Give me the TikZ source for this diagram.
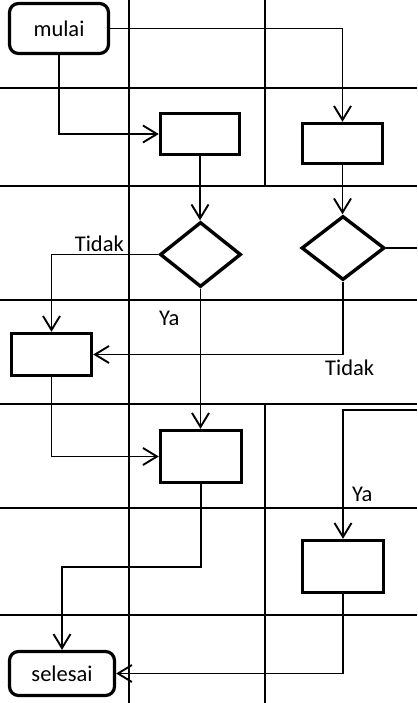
\documentclass[tikz,border=0pt]{standalone}
\usepackage{fontspec}
\setmainfont{Carlito}
\usetikzlibrary{arrows.meta,shapes.geometric}
\begin{document}
\begin{tikzpicture}[x=1pt,y=-1pt,
  gridline/.style={line width=2.2pt},
  conn/.style={line width=1.8pt,-{Straight Barb[length=14pt,width=17pt,line width=1.9pt]}},
  plainconn/.style={line width=1.8pt},
  procbox/.style={draw,line width=3.4pt,inner sep=0pt},
  term/.style={draw,line width=3.2pt,rounded corners=9pt,inner sep=0pt,font=\fontsize{22.5}{26}\selectfont},
  decision/.style={draw,diamond,line width=3.4pt,inner sep=0pt},
  lbl/.style={inner sep=0pt,font=\fontsize{22.5}{26}\selectfont}
]
\useasboundingbox (0,0) rectangle (417,703);
% swimlane grid
\foreach \yy in {88,186,300,404,508,615} \draw[gridline] (0,\yy) -- (417,\yy);
\draw[gridline] (129,0) -- (129,703);
\draw[gridline] (265,0) -- (265,186);
\draw[gridline] (265,404) -- (265,703);
% nodes
\node[term,minimum width=99pt,minimum height=50pt] (mulai) at (59,28.5) {mulai};
\node[procbox,minimum width=79pt,minimum height=41pt] (box1) at (200,134) {};
\node[procbox,minimum width=80pt,minimum height=40pt] (box2) at (342.5,143.5) {};
\node[decision,minimum width=81pt,minimum height=65pt] (d1) at (200.5,254.5) {};
\node[decision,minimum width=83pt,minimum height=64pt] (d2) at (343,248) {};
\node[procbox,minimum width=80pt,minimum height=42pt] (box3) at (51.5,354.5) {};
\node[procbox,minimum width=81pt,minimum height=52pt] (box4) at (201,456.5) {};
\node[procbox,minimum width=81pt,minimum height=52pt] (box5) at (343,566.5) {};
\node[term,minimum width=105pt,minimum height=44pt] (sel) at (62,673.5) {selesai};
\coordinate (edgeA) at (417,248);
\coordinate (edgeB) at (417,410);
\coordinate (turnA) at (201,567);
% connectors
\draw[conn] (mulai.east) -| (box2.north);
\draw[conn] (mulai.south) |- (box1.west);
\draw[conn] (box1.south) -- (box1.south |- d1.north);
\draw[conn] (box2.south) -- (box2.south |- d2.north);
\draw[conn] (d1.west) -| (box3.north);
\draw[conn] (d1.south) -- (d1.south |- box4.north);
\draw[conn] (d2.south) |- (box3.east);
\draw[plainconn] (d2.east) -- (edgeA);
\draw[conn] (edgeB) -| (box5.north);
\draw[conn] (box3.south) |- (box4.west);
\draw[conn] (box4.south) -- (turnA) -| (sel.north);
\draw[conn] (box5.south) |- (sel.east);
% labels
\node[lbl,anchor=base east] (t1) at (124,251.5) {Tidak};
\node[lbl,anchor=base west] (y1) at (159,325) {Ya};
\node[lbl,anchor=base west] (t2) at (325,375) {Tidak};
\node[lbl,anchor=base west] (y2) at (352,501.5) {Ya};
\end{tikzpicture}
\end{document}
